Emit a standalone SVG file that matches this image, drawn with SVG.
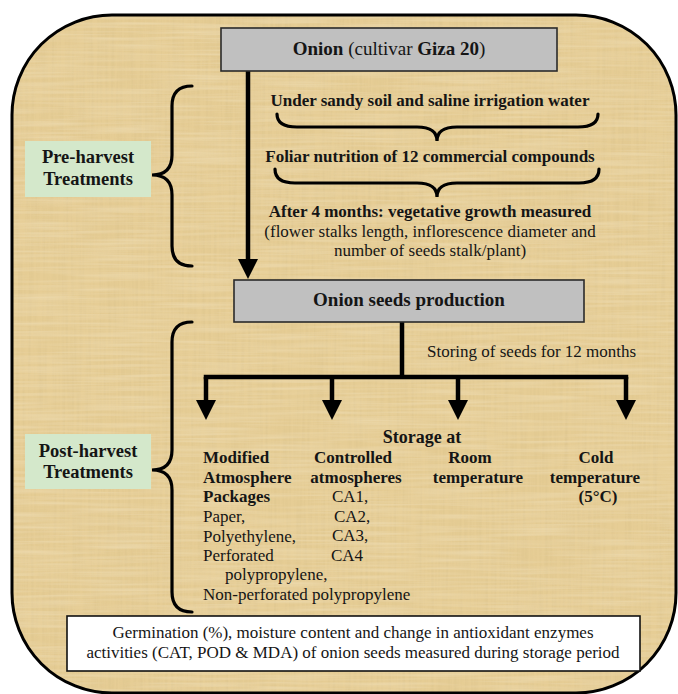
<svg xmlns="http://www.w3.org/2000/svg" width="678" height="694" viewBox="0 0 678 694">
  <defs>
    <style>
      .t { font-family: "Liberation Serif", "Times New Roman", serif; fill: #151515; }
      .b { font-weight: bold; }
      .h19 { font-size: 19px; }
      .s17 { font-size: 17px; }
      .s18 { font-size: 18.5px; }
      .box { fill: #c0c0c0; stroke: #2a2a2a; stroke-width: 1.6; }
      .lbl { fill: #d4e8cb; stroke: none; }
      .wire { stroke: #000; stroke-width: 4.5; fill: none; }
      .brace { stroke: #000; stroke-width: 3.2; fill: none; stroke-linecap: round; }
    </style>
    <marker id="ah" markerUnits="userSpaceOnUse" markerWidth="20" markerHeight="20" viewBox="0 0 20 20" refX="0" refY="10" orient="auto">
      <path d="M0,0 L20,10 L0,20 z" fill="#000"/>
    </marker>
    <clipPath id="frameClip">
      <rect x="12" y="15" width="664" height="678" rx="100" ry="100"/>
    </clipPath>
    <filter id="papyrus" x="0" y="0" width="100%" height="100%">
      <feTurbulence type="fractalNoise" baseFrequency="0.35 0.012" numOctaves="2" seed="4" result="v"/>
      <feColorMatrix in="v" type="matrix" values="0 0 0 0 0.62  0 0 0 0 0.48  0 0 0 0 0.22  0.9 0 0 0 -0.33" result="vc"/>
      <feTurbulence type="fractalNoise" baseFrequency="0.012 0.35" numOctaves="2" seed="9" result="h"/>
      <feColorMatrix in="h" type="matrix" values="0 0 0 0 0.98  0 0 0 0 0.92  0 0 0 0 0.76  0.9 0 0 0 -0.33" result="hc"/>
      <feMerge>
        <feMergeNode in="vc"/>
        <feMergeNode in="hc"/>
      </feMerge>
    </filter>
  </defs>

  <rect x="0" y="0" width="678" height="694" fill="#ffffff"/>

  <g id="frame">
    <rect x="12" y="15" width="664" height="678" rx="100" ry="100" fill="#e6cd95"/>
    <g clip-path="url(#frameClip)">
      <rect x="12" y="15" width="664" height="678" filter="url(#papyrus)" opacity="0.55"/>
    </g>
    <rect x="12" y="15" width="664" height="678" rx="100" ry="100" fill="none" stroke="#000" stroke-width="3"/>
  </g>

  <g id="connectors">
    <line class="wire" x1="248" y1="71" x2="248" y2="259" marker-end="url(#ah)"/>
    <line class="wire" x1="402" y1="322" x2="402" y2="377"/>
    <line class="wire" x1="203.75" y1="377" x2="628.25" y2="377"/>
    <line class="wire" x1="206" y1="377" x2="206" y2="400" marker-end="url(#ah)"/>
    <line class="wire" x1="332" y1="377" x2="332" y2="400" marker-end="url(#ah)"/>
    <line class="wire" x1="458" y1="377" x2="458" y2="400" marker-end="url(#ah)"/>
    <line class="wire" x1="626" y1="377" x2="626" y2="400" marker-end="url(#ah)"/>
    <path class="brace" d="M277,114 Q277,127 297,127 L417,127 Q437,127 437,141 Q437,127 457,127 L578,127 Q598,127 598,114"/>
    <path class="brace" d="M275,169 Q275,183 295,183 L417,183 Q437,183 437,197 Q437,183 457,183 L579,183 Q599,183 599,169"/>
    <path class="brace" d="M192,86 Q172,86 172,106 L172,155 Q172,175 152,175 Q172,175 172,195 L172,246 Q172,266 192,266"/>
    <path class="brace" d="M192,322 Q172,322 172,342 L172,450 Q172,470 152,470 Q172,470 172,490 L172,592 Q172,612 192,612"/>
  </g>

  <g id="onion">
    <rect class="box" x="221" y="28" width="336" height="43"/>
    <text class="t h19" x="389" y="55" text-anchor="middle"><tspan class="b">Onion</tspan> (cultivar <tspan class="b">Giza 20</tspan>)</text>
  </g>

  <g id="preharvest-steps">
    <text class="t b s17" x="430" y="106" text-anchor="middle">Under sandy soil and saline irrigation water</text>
    <text class="t b s17" x="430" y="162" text-anchor="middle">Foliar nutrition of 12 commercial compounds</text>
    <text class="t b s17" x="430" y="217" text-anchor="middle">After 4 months: vegetative growth measured</text>
    <text class="t s17" x="430" y="237" text-anchor="middle">(flower stalks length, inflorescence diameter and</text>
    <text class="t s17" x="430" y="256" text-anchor="middle">number of seeds stalk/plant)</text>
  </g>

  <g id="pre-harvest-label">
    <rect class="lbl" x="25" y="141" width="126" height="56"/>
    <text class="t b s18" x="88" y="163" text-anchor="middle">Pre-harvest</text>
    <text class="t b s18" x="88" y="185" text-anchor="middle">Treatments</text>
  </g>

  <g id="seeds">
    <rect class="box" x="234" y="280" width="350" height="42"/>
    <text class="t b h19" x="409" y="306" text-anchor="middle">Onion seeds production</text>
  </g>

  <g id="storing-label">
    <text class="t s17" x="427" y="357">Storing of seeds for 12 months</text>
  </g>

  <g id="post-harvest-label">
    <rect class="lbl" x="25" y="434" width="126" height="55"/>
    <text class="t b s18" x="88" y="457" text-anchor="middle">Post-harvest</text>
    <text class="t b s18" x="88" y="478" text-anchor="middle">Treatments</text>
  </g>

  <g id="storage-heading">
    <text class="t b" style="font-size:18px" x="422" y="443" text-anchor="middle">Storage at</text>
  </g>

  <g id="map">
    <text class="t b s17" x="203" y="463">Modified</text>
    <text class="t b s17" x="203" y="483">Atmosphere</text>
    <text class="t b s17" x="203" y="502">Packages</text>
    <text class="t s17" x="203" y="522">Paper,</text>
    <text class="t s17" x="203" y="542">Polyethylene,</text>
    <text class="t s17" x="203" y="561">Perforated</text>
    <text class="t s17" x="225" y="580">polypropylene,</text>
    <text class="t s17" x="203" y="600">Non-perforated polypropylene</text>
  </g>

  <g id="ca">
    <text class="t b s17" x="353" y="463" text-anchor="middle">Controlled</text>
    <text class="t b s17" x="356" y="483" text-anchor="middle">atmospheres</text>
    <text class="t s17" x="332" y="502">CA1,</text>
    <text class="t s17" x="334" y="522">CA2,</text>
    <text class="t s17" x="332" y="541">CA3,</text>
    <text class="t s17" x="331" y="561">CA4</text>
  </g>

  <g id="room">
    <text class="t b s17" x="470" y="463" text-anchor="middle">Room</text>
    <text class="t b s17" x="478" y="483" text-anchor="middle">temperature</text>
  </g>

  <g id="cold">
    <text class="t b s17" x="596" y="463" text-anchor="middle">Cold</text>
    <text class="t b s17" x="595" y="483" text-anchor="middle">temperature</text>
    <text class="t b s17" x="598" y="502" text-anchor="middle">(5°C)</text>
  </g>

  <g id="measurements">
    <rect x="67" y="616" width="573" height="55" fill="#ffffff" stroke="#111" stroke-width="1.6"/>
    <text class="t s17" x="353" y="638" text-anchor="middle">Germination (%), moisture content and change in antioxidant enzymes</text>
    <text class="t s17" x="353" y="658" text-anchor="middle">activities (CAT, POD &amp; MDA) of onion seeds measured during storage period</text>
  </g>
</svg>
